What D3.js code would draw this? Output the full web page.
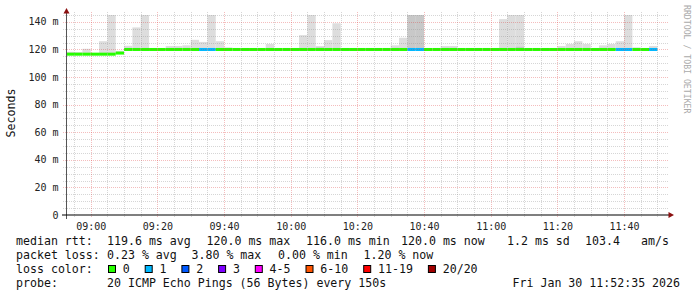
<!DOCTYPE html>
<html><head><meta charset="utf-8">
<script src="https://cdn.jsdelivr.net/npm/d3@7"></script>
<style>
html,body{margin:0;padding:0;background:#fff;}
svg{display:block;}
text{font-family:"DejaVu Sans Mono",monospace;}
</style></head>
<body>
<svg id="chart" width="697" height="297"></svg>
<script>
// ---------- data ----------
const viewStart = Date.UTC(2026,0,30,8,52,35);
const viewEnd   = Date.UTC(2026,0,30,11,52,35);
const dataStart = Date.UTC(2026,0,30,8,52,30);
const stepSeconds = 150;

// median rtt per 150 s step (ms)
const medianMs = [116.6,116.6,116.6,116.6,116.6,116.6,117.4,120,120,120,
  120,120,120,120,120,120,120,120,120,120,
  120,120,120,120,120,120,120,120,120,120,
  120,120,120,120,120,120,120,120,120,120,
  120,120,120,120,120,120,120,120,120,120,
  120,120,120,120,120,120,120,120,120,120,
  120,120,120,120,120,120,120,120,120,120,120];
// top of the light smoke (slowest ping, ms)
const smokeTopMs = [118.3,118,120.5,117.5,126,150,119,122.7,136,150,
  120.5,120.5,122.5,122.5,123,127,125.5,150,126,121.5,
  121,120.5,120.5,120.5,124,120.5,120.5,120.5,130.4,150,
  122.5,126.8,139,120.5,120.5,120.5,120.5,120.5,120.5,123,
  128.5,150,150,120.5,120.5,122.5,122.5,120.5,120.5,120.5,
  120.5,120.5,142,150,150,120.5,120.5,120.5,120.5,122.5,
  124,126,124,121,123,124,126,150,121.5,120.5,122.5];
// top of the darker inner smoke (ms), null = none
const smokeDarkMs = [null,null,null,null,null,null,null,null,null,null,
  null,null,null,null,null,null,null,null,null,null,
  null,null,null,null,null,null,null,null,null,null,
  121.5,null,null,null,null,null,null,null,null,null,
  null,150,150,null,null,null,null,null,null,null,
  null,null,null,null,122,null,null,null,null,null,
  null,null,null,null,null,null,null,null,null,null,null];
// lost pings per step
const lossCount = [0,0,0,0,0,0,0,0,0,0,
  0,0,0,0,0,0,1,1,0,0,
  0,0,0,0,0,0,0,0,0,0,
  0,0,0,0,0,0,0,0,0,0,
  0,1,1,0,0,0,0,0,0,0,
  0,0,0,0,0,0,0,0,0,0,
  0,0,0,0,0,0,1,1,0,0,1];

const lossLabels = ["0","1","2","3","4-5","6-10","11-19","20/20"];
const lossColors = ["#26ff00","#00b8ff","#0059ff","#7e00ff","#ff00ff","#ff5500","#ff0000","#a10000"];
const lossUpper  = [0,1,2,3,5,10,19,20];

const yTicks = [0,20,40,60,80,100,120,140];
const yTickLabels = ["0","20 m","40 m","60 m","80 m","100 m","120 m","140 m"];

const rttLegend = [["median rtt:",16],["119.6 ms avg",107],["120.0 ms max",206.5],["116.0 ms min",306],["120.0 ms now",401],["1.2 ms sd",507],["103.4",585],["am/s",641]];
const lossLegend = [["packet loss:",16],["0.23 % avg",107],["3.80 % max",191.5],["0.00 % min",278],["1.20 % now",363.5]];
const probeLegend = [["probe:",16],["20 ICMP Echo Pings (56 Bytes) every 150s",107],["Fri Jan 30 11:52:35 2026",512.5]];

// ---------- drawing ----------
const svg = d3.select("#chart");
const L=66, R=666, T=15, B=215;
const x = d3.scaleUtc().domain([viewStart, viewEnd]).range([L, R]);
const y = d3.scaleLinear().domain([0,145]).range([B, T]);

const steps = medianMs.map((m,i)=>({
  t0: new Date(dataStart + i*stepSeconds*1000),
  t1: new Date(dataStart + (i+1)*stepSeconds*1000),
  median: m, top: smokeTopMs[i], dark: smokeDarkMs[i], loss: lossCount[i]
}));
const lossColor = n => lossColors[lossUpper.findIndex(u => n <= u)];

svg.append("defs").append("clipPath").attr("id","plot")
  .append("rect").attr("x",L).attr("y",T).attr("width",R-L).attr("height",B-T);
const plot = svg.append("g").attr("clip-path","url(#plot)");

// smoke
plot.selectAll("rect.smoke").data(steps).join("rect").attr("class","smoke")
  .attr("x",d=>x(d.t0)).attr("width",d=>x(d.t1)-x(d.t0))
  .attr("y",d=>y(d.top)).attr("height",d=>Math.max(0,y(d.median)-y(d.top)))
  .attr("fill","#dddddd");
plot.selectAll("rect.dark").data(steps.filter(d=>d.dark!=null)).join("rect").attr("class","dark")
  .attr("x",d=>x(d.t0)).attr("width",d=>x(d.t1)-x(d.t0))
  .attr("y",d=>y(d.dark)).attr("height",d=>Math.max(0,y(d.median)-y(d.dark)))
  .attr("fill","#c8c8c8");
// median line coloured by loss
plot.selectAll("rect.med").data(steps).join("rect").attr("class","med")
  .attr("x",d=>x(d.t0)).attr("width",d=>x(d.t1)-x(d.t0))
  .attr("y",d=>y(d.median)-1.5).attr("height",3)
  .attr("fill",d=>lossColor(d.loss));

// grid (drawn over data like rrdtool)
const grid = svg.append("g");
const minorCol = "rgba(140,140,140,0.36)", majorCol = "rgba(220,50,50,0.32)";
const minorY = d3.range(0,146,5).filter(v=>v%20!==0);
grid.selectAll("line.hmin").data(minorY).join("line")
  .attr("x1",63).attr("x2",668).attr("y1",d=>Math.round(y(d))+0.5).attr("y2",d=>Math.round(y(d))+0.5)
  .attr("stroke",minorCol).attr("stroke-dasharray","1,1");
const minorX = d3.utcMinute.every(5).range(viewStart, viewEnd).filter(d=>d.getUTCMinutes()%20!==0);
grid.selectAll("line.vmin").data(minorX).join("line")
  .attr("x1",d=>Math.round(x(d))+0.5).attr("x2",d=>Math.round(x(d))+0.5).attr("y1",12).attr("y2",218)
  .attr("stroke",minorCol).attr("stroke-dasharray","1,1");
grid.selectAll("line.hmaj").data(yTicks.slice(1)).join("line")
  .attr("x1",63).attr("x2",668).attr("y1",d=>Math.round(y(d))+0.5).attr("y2",d=>Math.round(y(d))+0.5)
  .attr("stroke",majorCol).attr("stroke-dasharray","1,1");
const majorX = d3.utcMinute.every(20).range(viewStart, viewEnd);
grid.selectAll("line.vmaj").data(majorX).join("line")
  .attr("x1",d=>Math.round(x(d))+0.5).attr("x2",d=>Math.round(x(d))+0.5).attr("y1",12).attr("y2",218)
  .attr("stroke",majorCol).attr("stroke-dasharray","1,1");

// axes
svg.append("line").attr("x1",66.5).attr("x2",66.5).attr("y1",219).attr("y2",12).attr("stroke","#555");
svg.append("path").attr("d","M66.5,8 L63.5,13.5 L69.5,13.5 Z").attr("fill","#8b1010");
svg.append("line").attr("x1",62).attr("x2",669).attr("y1",215).attr("y2",215).attr("stroke","#000").attr("stroke-width",1.2);
svg.append("path").attr("d","M674,215 L668.5,212 L668.5,218 Z").attr("fill","#8b1010");

// tick labels
svg.append("g").selectAll("text").data(yTicks).join("text")
  .attr("x",58.5).attr("y",d=>y(d)+3.6).attr("text-anchor","end")
  .attr("font-size","10px").attr("fill","#222").text((d,i)=>yTickLabels[i]);
svg.append("g").selectAll("text").data(majorX).join("text")
  .attr("x",d=>x(d)+0.5).attr("y",229.5).attr("text-anchor","middle")
  .attr("font-size","10px").attr("fill","#222").text(d3.utcFormat("%H:%M"));

// unit label
svg.append("text").attr("transform","translate(15,113) rotate(-90)").attr("text-anchor","middle")
  .attr("font-size","11.6px").attr("fill","#111").text("Seconds");
// watermark
svg.append("text").attr("transform","translate(684,5) rotate(90)").attr("text-anchor","start")
  .attr("font-size","8.2px").attr("fill","#aaaaaa").text("RRDTOOL / TOBI OETIKER");

// legend
const leg = svg.append("g").attr("font-size","11.6px").attr("fill","#111");
const rows = [[rttLegend,244.5],[lossLegend,258.8],[probeLegend,287.2]];
rows.forEach(([items,by])=>{
  leg.selectAll(null).data(items).join("text").attr("x",d=>d[1]).attr("y",by).text(d=>d[0]);
});
leg.append("text").attr("x",16).attr("y",273).text("loss color:");
let bx = 108.5;
const boxes = lossLabels.map((lab,i)=>{ const o={lab,col:lossColors[i],x:bx}; bx += 29.7 + 7*lab.length; return o; });
leg.selectAll("rect.lb").data(boxes).join("rect").attr("class","lb")
  .attr("x",d=>d.x).attr("y",265.5).attr("width",7).attr("height",7)
  .attr("fill",d=>d.col).attr("stroke","#000").attr("stroke-width",1);
leg.selectAll("text.lt").data(boxes).join("text").attr("class","lt")
  .attr("x",d=>d.x+14.3).attr("y",273).text(d=>d.lab);
</script>
</body></html>
